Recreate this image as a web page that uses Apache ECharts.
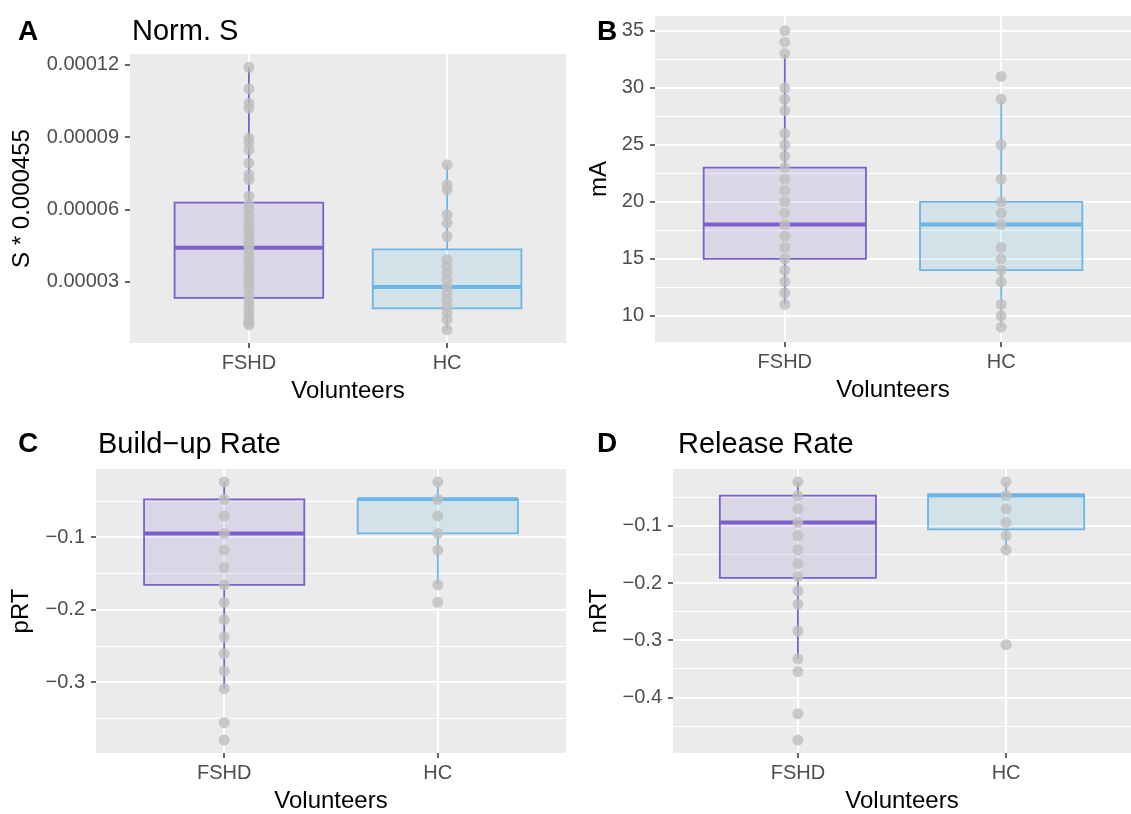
<!DOCTYPE html>
<html>
<head>
<meta charset="utf-8">
<script src="https://cdn.jsdelivr.net/npm/echarts@6/dist/echarts.min.js"></script>
<style>
  html, body { margin: 0; padding: 0; background: #fff; }
  #main { width: 1131px; height: 814px; }
</style>
</head>
<body>
<div id="main"></div>
<script>
// groups on the x axis
var categories = ['FSHD', 'HC'];

// A: Norm. S  (box = [lower whisker, Q1, median, Q3, upper whisker])
var normS_box_fshd = [0.0000122, 0.0000232, 0.0000441, 0.0000628, 0.000119];
var normS_box_hc = [0.0000100, 0.0000189, 0.0000278, 0.0000434, 0.0000785];
var normS_pts_fshd = [0.000119, 0.000110, 0.000104, 0.000102, 0.0000896, 0.0000875, 0.0000847, 0.0000792,
  0.0000744, 0.0000723, 0.0000654, 0.0000620, 0.0000600, 0.0000575, 0.0000550, 0.0000530, 0.0000510,
  0.0000490, 0.0000470, 0.0000455, 0.0000440, 0.0000420, 0.0000400, 0.0000380, 0.0000360, 0.0000340,
  0.0000320, 0.0000305, 0.0000290, 0.0000270, 0.0000240, 0.0000220, 0.0000200, 0.0000180, 0.0000160,
  0.0000140, 0.0000130, 0.0000120];
var normS_pts_hc = [0.0000785, 0.0000702, 0.0000681, 0.0000578, 0.0000543, 0.0000488, 0.0000391, 0.0000363,
  0.0000336, 0.0000308, 0.0000280, 0.0000253, 0.0000225, 0.0000197, 0.0000170, 0.0000142, 0.0000100];
var normS_ticks = [0.00003, 0.00006, 0.00009, 0.00012];
var normS_minor = [0.000015, 0.000045, 0.000075, 0.000105];

// B: mA
var mA_box_fshd = [11, 15, 18, 23, 33];
var mA_box_hc = [9, 14, 18, 20, 29];
var mA_pts_fshd = [35, 34, 33, 30, 29, 28, 26, 25, 24, 23, 22, 21, 20, 19, 18, 17, 16, 15, 14, 13, 12, 11];
var mA_pts_hc = [31, 29, 25, 22, 20, 19, 18, 16, 15, 14, 13, 11, 10, 9];
var mA_ticks = [10, 15, 20, 25, 30, 35];
var mA_minor = [12.5, 17.5, 22.5, 27.5, 32.5];

// C: Build-up Rate
var pRT_box_fshd = [-0.309, -0.166, -0.095, -0.048, -0.024];
var pRT_box_hc = [-0.166, -0.095, -0.048, -0.048, -0.024];
var pRT_pts_fshd = [-0.024, -0.048, -0.071, -0.095, -0.118, -0.142, -0.166, -0.190, -0.214, -0.238,
  -0.261, -0.285, -0.309, -0.356, -0.380];
var pRT_pts_hc = [-0.024, -0.048, -0.071, -0.095, -0.118, -0.166, -0.190];
var pRT_ticks = [-0.3, -0.2, -0.1];
var pRT_minor = [-0.35, -0.25, -0.15, -0.05];

// D: Release Rate
var nRT_box_fshd = [-0.333, -0.191, -0.094, -0.047, -0.023];
var nRT_box_hc = [-0.142, -0.106, -0.047, -0.045, -0.023];
var nRT_pts_fshd = [-0.023, -0.047, -0.070, -0.094, -0.117, -0.142, -0.166, -0.189, -0.214, -0.237,
  -0.284, -0.333, -0.355, -0.429, -0.475];
var nRT_pts_hc = [-0.023, -0.047, -0.070, -0.094, -0.117, -0.142, -0.308];
var nRT_ticks = [-0.4, -0.3, -0.2, -0.1];
var nRT_minor = [-0.45, -0.35, -0.25, -0.15, -0.05];

var FONT = '"Liberation Sans", Arial, sans-serif';
var boxColors = [
  { line: '#7b5fca', fill: 'rgba(123,95,202,0.15)' },
  { line: '#6cb5e6', fill: 'rgba(108,181,230,0.18)' }
];
var BOX_W = 0.75;

function minusFmt(v) { return v.toFixed(1).replace('-', '\u2212'); }

var panels = [
  { grid: { left: 130, top: 54, width: 436, height: 289 }, ylim: [0.0000045, 0.0001245],
    yname: 'S * 0.000455', ygap: 96, fmt: function (v) { return v.toFixed(5); },
    ticks: normS_ticks, minor: normS_minor, boxes: [normS_box_fshd, normS_box_hc],
    pts: [normS_pts_fshd, normS_pts_hc] },
  { grid: { left: 655, top: 16, width: 491, height: 326 }, ylim: [7.7, 36.3],
    yname: 'mA', ygap: 44, fmt: function (v) { return String(v); },
    ticks: mA_ticks, minor: mA_minor, boxes: [mA_box_fshd, mA_box_hc],
    pts: [mA_pts_fshd, mA_pts_hc] },
  { grid: { left: 96, top: 469, width: 470, height: 288 }, ylim: [-0.3978, -0.0062],
    yname: 'pRT', ygap: 63, fmt: minusFmt,
    ticks: pRT_ticks, minor: pRT_minor, boxes: [pRT_box_fshd, pRT_box_hc],
    pts: [pRT_pts_fshd, pRT_pts_hc] },
  { grid: { left: 673, top: 469, width: 473, height: 288 }, ylim: [-0.4976, -0.0004],
    yname: 'nRT', ygap: 62, fmt: minusFmt,
    ticks: nRT_ticks, minor: nRT_minor, boxes: [nRT_box_fshd, nRT_box_hc],
    pts: [nRT_pts_fshd, nRT_pts_hc] }
];

var grids = [], xAxes = [], yAxes = [], series = [];
var catX = categories.map(function (c, i) { return i + 1; });

panels.forEach(function (p, i) {
  grids.push(Object.assign({ show: true, backgroundColor: '#ebebeb', borderWidth: 0 }, p.grid));
  xAxes.push({
    gridIndex: i, type: 'value', min: 0.4, max: 2.6,
    name: 'Volunteers', nameLocation: 'middle', nameGap: 36,
    nameTextStyle: { fontSize: 24, color: '#000', fontFamily: FONT },
    axisLine: { show: false }, splitLine: { show: false },
    axisTick: { show: true, length: 5, customValues: catX, lineStyle: { color: '#333', width: 1.5 } },
    axisLabel: { customValues: catX, margin: 10, fontSize: 20, color: '#4d4d4d', fontFamily: FONT,
      formatter: function (v) { return categories[Math.round(v) - 1]; } }
  });
  yAxes.push({
    gridIndex: i, type: 'value', min: p.ylim[0], max: p.ylim[1],
    name: p.yname, nameLocation: 'middle', nameGap: p.ygap,
    nameTextStyle: { fontSize: 24, color: '#000', fontFamily: FONT },
    axisLine: { show: false }, splitLine: { show: false },
    axisTick: { show: true, length: 5, customValues: p.ticks, lineStyle: { color: '#333', width: 1.5 } },
    axisLabel: { customValues: p.ticks, margin: 11, fontSize: 20, color: '#4d4d4d', fontFamily: FONT,
      formatter: p.fmt }
  });

  // white panel grid lines
  var gl = [];
  p.minor.forEach(function (v) { gl.push({ yAxis: v, lineStyle: { width: 1 } }); });
  p.ticks.forEach(function (v) { gl.push({ yAxis: v, lineStyle: { width: 2 } }); });
  catX.forEach(function (x) { gl.push({ xAxis: x, lineStyle: { width: 2 } }); });
  series.push({
    type: 'line', xAxisIndex: i, yAxisIndex: i, data: [], z: 1, silent: true,
    markLine: { z: 1, silent: true, symbol: 'none', label: { show: false },
      lineStyle: { color: '#fff', type: 'solid' }, data: gl }
  });

  series.push({
    type: 'custom', xAxisIndex: i, yAxisIndex: i, z: 2,
    data: p.boxes.map(function (b, k) { return [catX[k]].concat(b); }),
    encode: { x: 0, y: [1, 2, 3, 4, 5] },
    renderItem: function (params, api) {
      var x = api.value(0);
      var lo = api.coord([x, api.value(1)]);
      var q1 = api.coord([x, api.value(2)]);
      var md = api.coord([x, api.value(3)]);
      var q3 = api.coord([x, api.value(4)]);
      var hi = api.coord([x, api.value(5)]);
      var half = api.size([BOX_W, 0])[0] / 2;
      var c = boxColors[params.dataIndex];
      return { type: 'group', children: [
        { type: 'line', shape: { x1: lo[0], y1: lo[1], x2: q1[0], y2: q1[1] }, style: { stroke: c.line, lineWidth: 1.8 } },
        { type: 'line', shape: { x1: q3[0], y1: q3[1], x2: hi[0], y2: hi[1] }, style: { stroke: c.line, lineWidth: 1.8 } },
        { type: 'rect', shape: { x: q1[0] - half, y: q3[1], width: half * 2, height: q1[1] - q3[1] },
          style: { fill: c.fill, stroke: c.line, lineWidth: 1.8 } },
        { type: 'line', shape: { x1: md[0] - half, y1: md[1], x2: md[0] + half, y2: md[1] },
          style: { stroke: c.line, lineWidth: 4 } }
      ] };
    }
  });

  p.pts.forEach(function (arr, k) {
    series.push({
      type: 'scatter', xAxisIndex: i, yAxisIndex: i, z: 3, symbolSize: 11,
      itemStyle: { color: '#bebebe' },
      data: arr.map(function (v) { return [catX[k], v]; })
    });
  });
});

var titleStyle = { fontSize: 29, fontWeight: 'normal', color: '#000', fontFamily: FONT };
var letterStyle = { fontSize: 28, fontWeight: 'bold', color: '#000', fontFamily: FONT };

var chart = echarts.init(document.getElementById('main'));
chart.setOption({
  animation: false,
  backgroundColor: '#fff',
  title: [
    { text: 'A', left: 13, top: 13, textStyle: letterStyle },
    { text: 'Norm. S', left: 127, top: 12, textStyle: titleStyle },
    { text: 'B', left: 592, top: 13, textStyle: letterStyle },
    { text: 'C', left: 13, top: 425, textStyle: letterStyle },
    { text: 'Build\u2212up Rate', left: 93, top: 425, textStyle: titleStyle },
    { text: 'D', left: 592, top: 425, textStyle: letterStyle },
    { text: 'Release Rate', left: 673, top: 425, textStyle: titleStyle }
  ],
  grid: grids,
  xAxis: xAxes,
  yAxis: yAxes,
  series: series
});
</script>
</body>
</html>
